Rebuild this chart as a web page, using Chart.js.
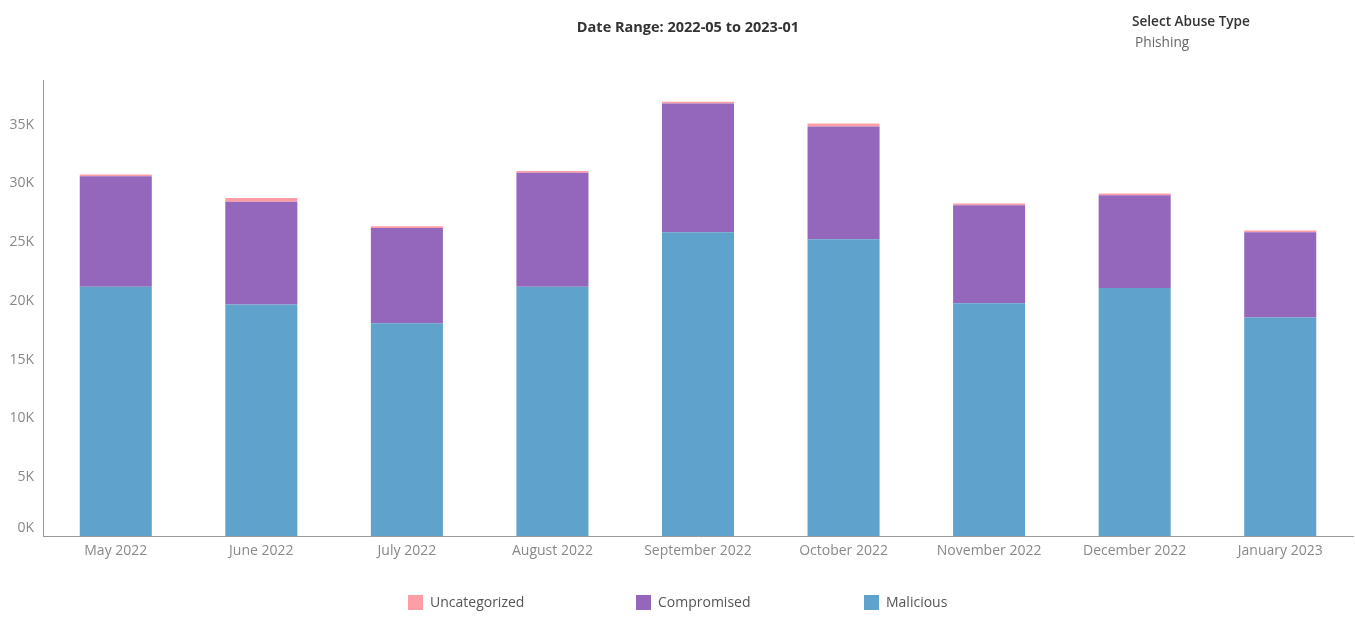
<!DOCTYPE html>
<html>
<head>
<meta charset="utf-8">
<script src="https://cdn.jsdelivr.net/npm/chart.js@4"></script>
<style>
    body { margin: 0; background: #fff; font-family: "Open Sans", sans-serif; }
    #wrap { position: relative; width: 1355px; height: 624px; }
    #chart { position: absolute; left: 0; top: 0; }
    .title { position: absolute; top: 17px; left: 0; width: 1376px; text-align: center; font-size: 14.5px; font-weight: bold; color: #333; }
    .filter-head { position: absolute; left: 1132px; top: 11px; font-size: 13.6px; font-weight: 600; color: #333; }
    .filter-val { position: absolute; left: 1135px; top: 32px; font-size: 13.7px; color: #666; }
    .legend-item { position: absolute; top: 592px; font-size: 14px; color: #555; }
    .legend-item span { display: inline-block; width: 15px; height: 15px; vertical-align: -3px; margin-right: 7px; }
</style>
</head>
<body>
<div id="wrap">
    <canvas id="chart" width="1355" height="624"></canvas>
    <div class="title">Date Range: 2022-05 to 2023-01</div>
    <div class="filter-head">Select Abuse Type</div>
    <div class="filter-val">Phishing</div>
    <div id="legend"></div>
</div>
<script>
const months = ['May 2022', 'June 2022', 'July 2022', 'August 2022', 'September 2022',
                'October 2022', 'November 2022', 'December 2022', 'January 2023'];
const malicious = [21200, 19700, 18100, 21200, 25850, 25250, 19800, 21100, 18600];
const compromised = [9400, 8750, 8100, 9700, 10950, 9600, 8350, 7900, 7250];
const uncategorized = [150, 300, 150, 150, 150, 250, 150, 150, 150];
const yTicks = [0, 5000, 10000, 15000, 20000, 25000, 30000, 35000];

const colors = {
    Malicious: '#5fa2cc',
    Compromised: '#9467bd',
    Uncategorized: '#ff9da7'
};

// legend is plain html, items are evenly spaced like the original
const legendOrder = ['Uncategorized', 'Compromised', 'Malicious'];
let legendHtml = '';
legendOrder.forEach((name, i) => {
    legendHtml += `<div class="legend-item" style="left:${408 + i * 228}px"><span style="background:${colors[name]}"></span>${name}</div>`;
});
document.getElementById('legend').innerHTML = legendHtml;

const tickFont = { family: '"Open Sans", sans-serif', size: 14 };

new Chart(document.getElementById('chart'), {
    type: 'bar',
    data: {
        labels: months,
        datasets: [
            { label: 'Malicious', data: malicious, backgroundColor: colors.Malicious },
            { label: 'Compromised', data: compromised, backgroundColor: colors.Compromised },
            { label: 'Uncategorized', data: uncategorized, backgroundColor: colors.Uncategorized }
        ]
    },
    options: {
        responsive: false,
        animation: false,
        layout: { padding: { top: 80, right: 2, left: 0, bottom: 0 } },
        datasets: { bar: { barPercentage: 0.495, categoryPercentage: 1 } },
        plugins: { legend: { display: false }, tooltip: { enabled: false } },
        scales: {
            x: {
                stacked: true,
                grid: { display: false, drawTicks: false },
                border: { color: '#9a9a9a' },
                ticks: { color: '#888', font: tickFont, padding: 7, maxRotation: 0 },
                afterFit: scale => { scale.height = 88; }
            },
            y: {
                stacked: true,
                min: 0,
                max: 38800,
                afterBuildTicks: scale => { scale.ticks = yTicks.map(v => ({ value: v })); },
                grid: { display: false, drawTicks: true, tickLength: 4, tickColor: '#ccc' },
                border: { color: '#9a9a9a' },
                ticks: {
                    color: '#888',
                    font: tickFont,
                    padding: 5,
                    // the zero label sits a bit above the baseline, as in the original
                    callback: v => v === 0 ? ['0K', ''] : (v / 1000) + 'K'
                },
                afterFit: scale => { scale.width = 43; }
            }
        }
    }
});
</script>
</body>
</html>
